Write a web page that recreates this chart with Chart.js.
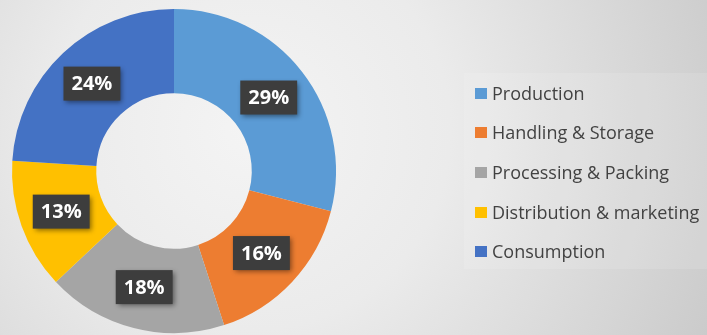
<!DOCTYPE html>
<html>
<head>
<meta charset="utf-8">
<script src="https://cdn.jsdelivr.net/npm/chart.js@4.4.1/dist/chart.umd.min.js"></script>
<style>
  html, body { margin: 0; padding: 0; }
  body {
    width: 707px; height: 335px; overflow: hidden; position: relative;
    background: radial-gradient(circle farthest-corner at 250px 130px, #f4f4f4 0%, #ebebeb 40%, #cbcbcb 100%);
    font-family: "Open Sans", sans-serif;
  }
  #wrap { position: absolute; left: 0; top: 0; width: 707px; height: 335px; }
  #legend {
    position: absolute; left: 464px; top: 73px; width: 243px; height: 196px;
    background: rgba(255,255,255,0.12);
    list-style: none; margin: 0; padding: 0;
  }
  #legend li {
    position: absolute; left: 11px; height: 22px;
    display: flex; align-items: center;
    font-size: 18px; color: #424242; white-space: nowrap;
  }
  #legend .box { width: 12px; height: 11px; margin-right: 5px; display: inline-block; }
</style>
</head>
<body>
<div id="wrap"><canvas id="pie" width="707" height="335"></canvas></div>
<ul id="legend"></ul>

<script>
// ── data ──
const stages  = ["Production", "Handling & Storage", "Processing & Packing", "Distribution & marketing", "Consumption"];
const shares  = [29, 16, 18, 13, 24];
const colours = ["#5b9bd5", "#ed7d31", "#a5a5a5", "#ffc000", "#4472c4"];

// dark percent tags on each slice
const tagPlugin = {
  id: "tags",
  afterDatasetsDraw(chart) {
    const ctx  = chart.ctx;
    const meta = chart.getDatasetMeta(0);
    ctx.save();
    ctx.font = "bold 20px 'Open Sans', sans-serif";
    ctx.textAlign = "center";
    ctx.textBaseline = "middle";
    meta.data.forEach((arc, i) => {
      const p   = arc.tooltipPosition();
      const txt = shares[i] + "%";
      const w   = ctx.measureText(txt).width + 16;
      const h   = 34;
      ctx.shadowColor = "rgba(0,0,0,0.45)";
      ctx.shadowBlur = 5;
      ctx.shadowOffsetX = 2;
      ctx.shadowOffsetY = 2;
      ctx.fillStyle = "#3d3d3d";
      ctx.fillRect(p.x - w / 2, p.y - h / 2, w, h);
      ctx.shadowColor = "transparent";
      ctx.fillStyle = "#fff";
      ctx.fillText(txt, p.x, p.y + 1);
    });
    ctx.restore();
  }
};

const chart = new Chart(document.getElementById("pie"), {
  type: "doughnut",
  data: {
    labels: stages,
    datasets: [{
      data: shares,
      backgroundColor: colours,
      borderWidth: 0
    }]
  },
  options: {
    responsive: false,
    animation: false,
    cutout: "48%",
    layout: { padding: { left: 12, top: 9, right: 371, bottom: 2 } },
    plugins: {
      legend: { display: false },
      tooltip: { enabled: false }
    }
  },
  plugins: [tagPlugin]
});

// legend on the right, built from the same arrays
const legendEl = document.getElementById("legend");
const rowTops  = [9, 48, 88, 128, 167];
legendEl.innerHTML = stages.map((s, i) => `
  <li style="top:${rowTops[i]}px"><span class="box" style="background:${colours[i]}"></span>${s}</li>
`).join("");
</script>
</body>
</html>
